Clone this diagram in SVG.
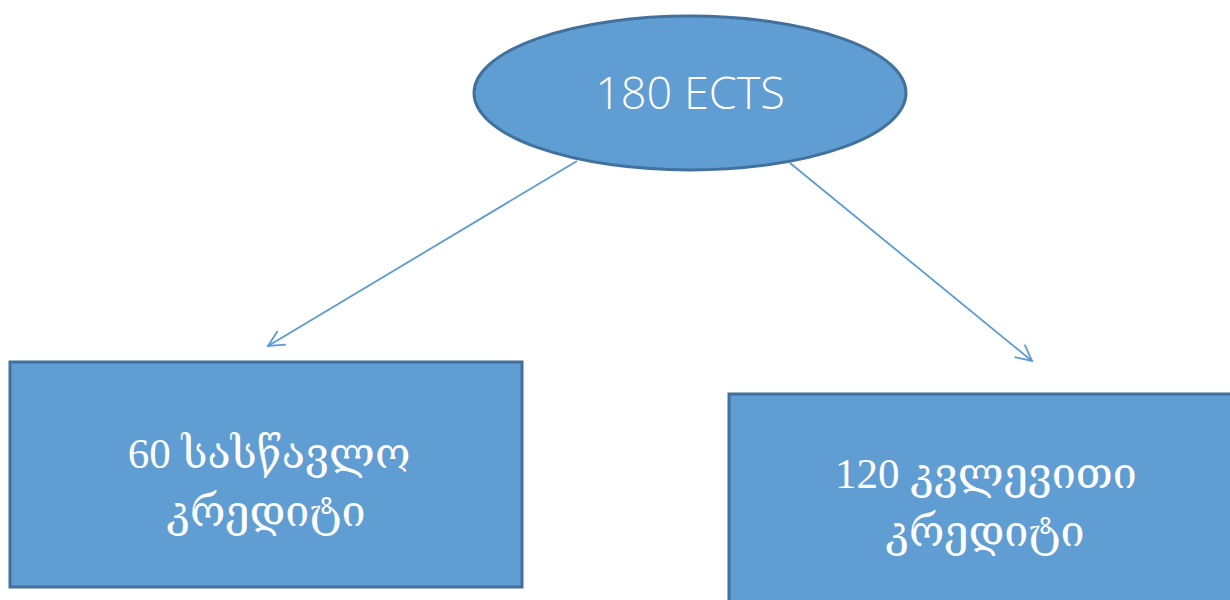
<svg xmlns="http://www.w3.org/2000/svg" width="1230" height="600" viewBox="0 0 1230 600">
<defs>
<style>
.shape{fill:#609DD2;stroke:#41719C;stroke-width:3}
.conn{stroke:#5B9BD5;stroke-width:1.8;fill:none;marker-end:url(#arr)}
.lbl{fill:#ffffff;text-anchor:middle}
.geo{font-family:"Liberation Serif","DejaVu Serif","DejaVu Sans",serif;font-size:43px}
.lat{font-family:"Open Sans","Liberation Sans",sans-serif;font-weight:300;font-size:45px}
</style>
<marker id="arr" viewBox="0 0 20 20" refX="18" refY="10" markerWidth="20" markerHeight="20" markerUnits="userSpaceOnUse" orient="auto">
<path d="M2,2 L18,10 L2,18" fill="none" stroke="#5B9BD5" stroke-width="1.8"/>
</marker>
</defs>
<rect width="1230" height="600" fill="#ffffff"/>
<g id="connectors">
<line class="conn" x1="577" y1="161" x2="268" y2="346"/>
<line class="conn" x1="790" y1="163" x2="1032" y2="361"/>
</g>
<g id="node-total">
<ellipse class="shape" cx="690" cy="93" rx="216" ry="77"/>
<text class="lbl lat" x="690" y="109">180 ECTS</text>
</g>
<g id="node-study">
<rect class="shape" x="10" y="362" width="512" height="225"/>
<text class="lbl geo" x="269" y="468">60 სასწავლო</text>
<text class="lbl geo" x="266" y="526">კრედიტი</text>
</g>
<g id="node-research">
<rect class="shape" x="729" y="394" width="520" height="230"/>
<text class="lbl geo" x="986" y="488">120 კვლევითი</text>
<text class="lbl geo" x="985" y="546">კრედიტი</text>
</g>
</svg>
